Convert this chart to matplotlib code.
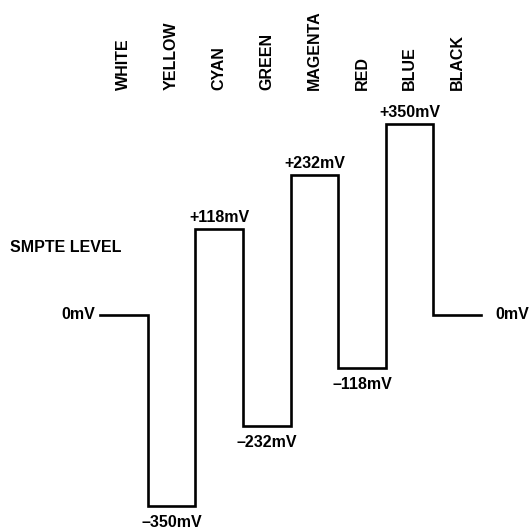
import matplotlib
matplotlib.use('Agg')
import matplotlib.pyplot as plt
import numpy as np

plt.rcParams['font.family'] = ['Liberation Sans', 'DejaVu Sans']

# colour bars, left to right
bars = ['WHITE', 'YELLOW', 'CYAN', 'GREEN', 'MAGENTA', 'RED', 'BLUE', 'BLACK']
# labelled SMPTE levels in mV
level_mv = [0, -350, 118, -232, 232, -118, 350, 0]
# heights as drawn in the (not to scale) diagram
drawn = [0, -350, 158, -203, 257, -97, 350, 0]

fig = plt.figure(figsize=(5.32, 5.29), dpi=100)
ax = fig.add_axes([0, 0, 1, 1])
ax.set_xlim(-2.10, 9.07)
ax.set_ylim(-392, 577)
ax.axis('off')

# step waveform
xs = []
ys = []
for i, d in enumerate(drawn):
    xs += [i, i + 1]
    ys += [d, d]
ax.plot(xs, ys, color='black', linewidth=1.9, solid_joinstyle='miter')

# bar names on top
for i, name in enumerate(bars):
    ax.text(i + 0.5, 1 - 90 / 529, name, transform=ax.get_xaxis_transform(),
            rotation=90, ha='center', va='bottom', fontsize=11.5, fontweight='bold')

# level labels
fs = 11.5
for i, (mv, d) in enumerate(zip(level_mv, drawn)):
    if i == 0:
        ax.annotate('0mV', (0, d), xytext=(-3.5, 0), textcoords='offset points',
                    ha='right', va='center', fontsize=fs, fontweight='bold')
    elif i == len(drawn) - 1:
        ax.annotate('0mV', (i + 1, d), xytext=(10.5, 0), textcoords='offset points',
                    ha='left', va='center', fontsize=fs, fontweight='bold')
    elif mv > 0:
        ax.annotate(f'+{mv}mV', (i + 0.5, d), xytext=(0, 3), textcoords='offset points',
                    ha='center', va='bottom', fontsize=fs, fontweight='bold')
    else:
        ax.annotate(f'\u2013{-mv}mV', (i + 0.5, d), xytext=(0, -6.5), textcoords='offset points',
                    ha='center', va='top', fontsize=fs, fontweight='bold')

ax.text(10 / 532, 1 - 248 / 529, 'SMPTE LEVEL', transform=ax.transAxes,
        ha='left', va='center', fontsize=fs, fontweight='bold')

fig.savefig('out.png', dpi=100)
